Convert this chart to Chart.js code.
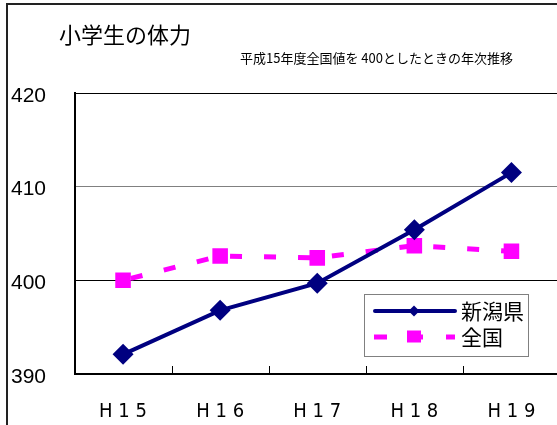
<!DOCTYPE html>
<html lang="ja">
<head>
<meta charset="utf-8">
<script src="https://cdn.jsdelivr.net/npm/chart.js@4"></script>
<style>
    html, body { margin: 0; padding: 0; background: #fff; overflow: hidden; }
    #wrap { position: absolute; left: 0; top: 0; width: 571px; height: 425px; }
</style>
</head>
<body>
<div id="wrap"><canvas id="grafico"></canvas></div>
<script>
// 年度
const categorias = ['H 1 5', 'H 1 6', 'H 1 7', 'H 1 8', 'H 1 9'];
// 新潟県 (H15全国=400)
const niigata = [392.1, 396.8, 399.7, 405.4, 411.5];
// 全国
const zenkoku = [400.0, 402.6, 402.4, 403.7, 403.1];
// 縦軸
const escalaY = { min: 390, max: 420, passo: 10 };

const TITULO = '小学生の体力';
const SUBTITULO = '平成15年度全国値を 400としたときの年次推移';

const CORES = {
    niigata: '#000080',
    zenkoku: '#FF00FF'
};

const FONTE_JP = '"Noto Sans CJK JP", "Noto Sans", sans-serif';

/**
 * Moldura, títulos, marcas internas do eixo X e legenda.
 */
const decoracao = {
    id: 'decoracao',
    afterDraw(chart) {
        const ctx = chart.ctx;
        const area = chart.chartArea;
        const x = chart.scales.x;
        ctx.save();

        // moldura externa
        ctx.strokeStyle = '#222';
        ctx.lineWidth = 2;
        ctx.beginPath();
        ctx.moveTo(7, 425);
        ctx.lineTo(7, 4);
        ctx.lineTo(573, 4);
        ctx.stroke();

        // títulos
        ctx.fillStyle = '#000';
        ctx.textBaseline = 'middle';
        ctx.textAlign = 'left';
        ctx.font = '22px ' + FONTE_JP;
        ctx.fillText(TITULO, 59, 35);
        ctx.font = '13px ' + FONTE_JP;
        ctx.fillText(SUBTITULO, 240, 58);

        // marcas do eixo X para dentro
        ctx.strokeStyle = '#000';
        ctx.lineWidth = 1;
        for (let i = 0; i < categorias.length - 1; i++) {
            const px = Math.round((x.getPixelForValue(i) + x.getPixelForValue(i + 1)) / 2) + 0.5;
            ctx.beginPath();
            ctx.moveTo(px, area.bottom);
            ctx.lineTo(px, area.bottom - 8);
            ctx.stroke();
        }

        // legenda
        const lx = 364.5, ly = 294.5, lw = 164, lh = 62;
        ctx.fillStyle = '#fff';
        ctx.fillRect(lx, ly, lw, lh);
        ctx.strokeStyle = '#808080';
        ctx.strokeRect(lx, ly, lw, lh);

        const ds = chart.data.datasets;
        // 新潟県
        let y = 311;
        ctx.strokeStyle = ds[0].borderColor;
        ctx.lineWidth = 4;
        ctx.lineCap = 'round';
        ctx.beginPath();
        ctx.moveTo(375, y);
        ctx.lineTo(455, y);
        ctx.stroke();
        ctx.lineCap = 'butt';
        ctx.fillStyle = ds[0].backgroundColor;
        ctx.beginPath();
        ctx.moveTo(414, y - 5.5);
        ctx.lineTo(419.5, y);
        ctx.lineTo(414, y + 5.5);
        ctx.lineTo(408.5, y);
        ctx.closePath();
        ctx.fill();

        // 全国
        y = 337;
        ctx.strokeStyle = ds[1].borderColor;
        ctx.lineWidth = 5;
        ctx.beginPath();
        ctx.moveTo(374, y);
        ctx.lineTo(387, y);
        ctx.moveTo(420, y);
        ctx.lineTo(423, y);
        ctx.moveTo(446, y);
        ctx.lineTo(455, y);
        ctx.stroke();
        ctx.fillStyle = ds[1].backgroundColor;
        ctx.fillRect(407, y - 6.5, 14, 12);

        ctx.fillStyle = '#000';
        ctx.font = '21px ' + FONTE_JP;
        ctx.textAlign = 'left';
        ctx.fillText(ds[0].label, 461, 311);
        ctx.fillText(ds[1].label, 461, 337);

        ctx.restore();
    }
};

/**
 * Cria o gráfico de linhas.
 * @param {string} canvasId - ID do elemento canvas
 */
function criarGrafico(canvasId) {
    const ctx = document.getElementById(canvasId)?.getContext('2d');
    if (!ctx) return null;

    return new Chart(ctx, {
        type: 'line',
        data: {
            labels: categorias,
            datasets: [{
                label: '新潟県',
                data: niigata,
                borderColor: CORES.niigata,
                backgroundColor: CORES.niigata,
                borderWidth: 4,
                pointStyle: 'rectRot',
                pointRadius: 10.5,
                pointBorderWidth: 0,
                tension: 0,
                fill: false
            }, {
                label: '全国',
                data: zenkoku,
                borderColor: CORES.zenkoku,
                backgroundColor: CORES.zenkoku,
                borderWidth: 5,
                borderDash: [12, 22],
                borderDashOffset: -8,
                pointStyle: 'rect',
                pointRadius: 11,
                pointBorderWidth: 0,
                tension: 0,
                fill: false
            }]
        },
        options: {
            responsive: true,
            maintainAspectRatio: false,
            animation: false,
            layout: {
                padding: { left: 11, top: 93, right: 0, bottom: 0 }
            },
            plugins: {
                legend: { display: false },
                tooltip: { enabled: false }
            },
            scales: {
                x: {
                    offset: true,
                    grid: { display: false },
                    border: { color: '#000', width: 2 },
                    ticks: {
                        color: '#000',
                        font: { family: '"Liberation Sans Narrow", "DejaVu Sans Condensed", sans-serif', size: 20 },
                        padding: 18,
                        maxRotation: 0
                    },
                    afterFit: (scale) => { scale.height = 51; }
                },
                y: {
                    min: escalaY.min,
                    max: escalaY.max,
                    grid: {
                        drawTicks: false,
                        color: (c) => (c.tick && c.tick.value === 410 ? '#808080' : '#000'),
                        lineWidth: 1
                    },
                    border: { color: '#000', width: 2 },
                    ticks: {
                        stepSize: escalaY.passo,
                        color: '#000',
                        crossAlign: 'far',
                        labelOffset: 3,
                        font: { family: '"Liberation Sans", Arial, sans-serif', size: 21 }
                    },
                    afterFit: (scale) => { scale.width = 63.5; }
                }
            }
        },
        plugins: [decoracao]
    });
}

criarGrafico('grafico');
</script>
</body>
</html>
